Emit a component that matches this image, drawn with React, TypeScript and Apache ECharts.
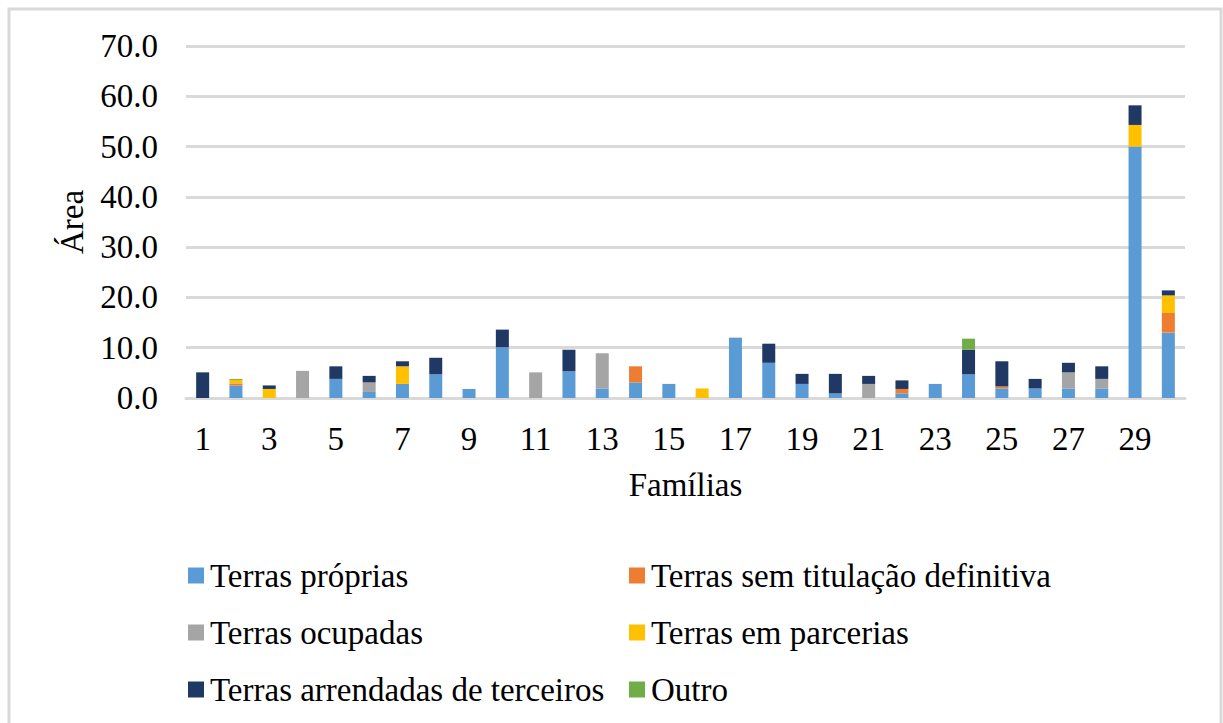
import React, { useEffect, useRef } from "react";
import * as echarts from "echarts";

const categories = Array.from({ length: 30 }, (_, i) => String(i + 1));
const yTicks = [0, 10, 20, 30, 40, 50, 60, 70];

const terrasProprias = [0, 2.5, 0, 0, 3.8, 1.2, 2.8, 4.7, 1.8, 10.1, 0, 5.3, 1.9, 3.1, 2.8, 0, 12.0, 7.0, 2.8, 0.9, 0, 0.9, 2.8, 4.7, 1.9, 1.9, 1.9, 1.9, 50.0, 13.0];
const terrasSemTitulacao = [0, 0.4, 0, 0, 0, 0, 0, 0, 0, 0, 0, 0, 0, 3.2, 0, 0, 0, 0, 0, 0, 0, 0.9, 0, 0, 0.4, 0, 0, 0, 0, 3.9];
const terrasOcupadas = [0, 0, 0, 5.4, 0, 1.9, 0, 0, 0, 0, 5.1, 0, 7.0, 0, 0, 0, 0, 0, 0, 0, 2.8, 0, 0, 0, 0, 0, 3.2, 1.9, 0, 0];
const terrasParcerias = [0, 0.7, 1.8, 0, 0, 0, 3.5, 0, 0, 0, 0, 0, 0, 0, 0, 1.9, 0, 0, 0, 0, 0, 0, 0, 0, 0, 0, 0, 0, 4.3, 3.5];
const terrasArrendadas = [5.1, 0, 0.7, 0, 2.5, 1.3, 1.0, 3.3, 0, 3.5, 0, 4.3, 0, 0, 0, 0, 0, 3.8, 2.0, 3.9, 1.6, 1.7, 0, 4.9, 5.0, 1.9, 1.9, 2.5, 3.9, 1.0];
const outro = [0, 0.2, 0, 0, 0, 0, 0, 0, 0, 0, 0, 0, 0, 0, 0, 0, 0, 0, 0, 0, 0, 0, 0, 2.2, 0, 0, 0, 0, 0, 0];

const seriesNames = [
  "Terras próprias",
  "Terras sem titulação definitiva",
  "Terras ocupadas",
  "Terras em parcerias",
  "Terras arrendadas de terceiros",
  "Outro",
];
const seriesData = [terrasProprias, terrasSemTitulacao, terrasOcupadas, terrasParcerias, terrasArrendadas, outro];
const colors = ["#5B9BD5", "#ED7D31", "#A5A5A5", "#FFC000", "#203864", "#70AD47"];

const FONT = "Liberation Serif, Times New Roman, serif";
const FS = 33;

export default function App() {
  const ref = useRef<HTMLDivElement>(null);
  useEffect(() => {
    document.body.style.margin = "0";
    const chart = echarts.init(ref.current!, null, { renderer: "svg" });
    const legendCommon = {
      orient: "vertical" as const,
      top: 554,
      itemWidth: 16,
      itemHeight: 16,
      itemGap: 24,
      icon: "rect",
      textStyle: { fontFamily: FONT, fontSize: FS, lineHeight: 33, color: "#000", padding: [0, 0, 0, 1] },
    };
    chart.setOption({
      animation: false,
      color: colors,
      textStyle: { fontFamily: FONT },
      graphic: [
        {
          type: "rect",
          shape: { x: 9, y: 9, width: 1212, height: 730 },
          style: { fill: "none", stroke: "#d9d9d9", lineWidth: 3 },
          silent: true,
        },
      ],
      grid: { left: 186, right: 38, top: 46, bottom: 325, containLabel: false },
      legend: [
        { ...legendCommon, left: 183, data: [seriesNames[0], seriesNames[2], seriesNames[4]] },
        { ...legendCommon, left: 624, data: [seriesNames[1], seriesNames[3], seriesNames[5]] },
      ],
      xAxis: {
        type: "category",
        data: categories,
        name: "Famílias",
        nameLocation: "middle",
        nameGap: 70,
        nameTextStyle: { fontFamily: FONT, fontSize: FS, color: "#000" },
        axisLine: { show: true, lineStyle: { color: "#d9d9d9", width: 3 } },
        axisTick: { show: false },
        axisLabel: { interval: 1, fontFamily: FONT, fontSize: FS, color: "#000", margin: 24 },
      },
      yAxis: {
        type: "value",
        min: 0,
        max: 70,
        interval: 10,
        name: "Área",
        nameLocation: "middle",
        nameGap: 98,
        nameRotate: 90,
        nameTextStyle: { fontFamily: FONT, fontSize: FS, color: "#000" },
        axisLine: { show: false },
        axisTick: { show: false },
        axisLabel: {
          fontFamily: FONT,
          fontSize: FS,
          color: "#000",
          margin: 28,
          formatter: (v: number) => (yTicks.includes(v) ? v.toFixed(1) : ""),
        },
        splitLine: { lineStyle: { color: "#d9d9d9", width: 3 } },
      },
      series: seriesNames.map((name, i) => ({
        name,
        type: "bar",
        stack: "total",
        barWidth: 13,
        data: seriesData[i],
        itemStyle: { color: colors[i] },
      })),
    });
    return () => chart.dispose();
  }, []);
  return <div ref={ref} style={{ width: 1223, height: 723 }} />;
}
